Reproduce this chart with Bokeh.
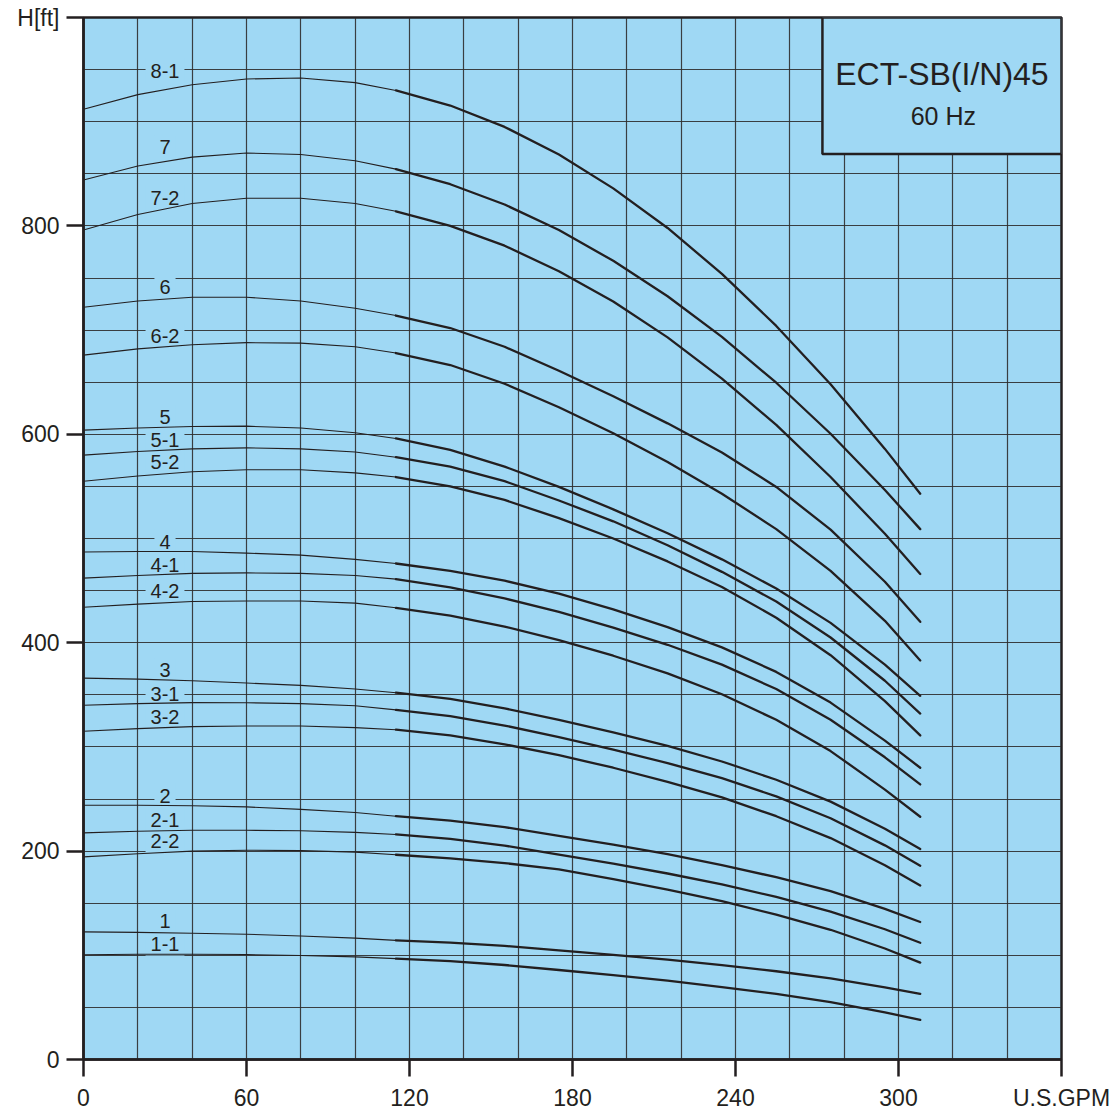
from bokeh.plotting import figure
from bokeh.models import Range1d, FixedTicker, ColumnDataSource
from bokeh.embed import file_html
from bokeh.resources import INLINE
from bokeh.core.properties import value

# ---------------- data ----------------
flow_thin = [0, 20, 40, 60, 80, 100, 115]
flow_thick = [115, 135, 155, 175, 195, 215, 235, 255, 275, 295, 308]

h_8_1_thin = [912, 926, 935.5, 941, 942, 937.5, 930]
h_8_1_thick = [930, 915.5, 895, 868.5, 836, 798, 754, 704, 648, 586, 543]
h_7_thin = [844, 857.5, 866, 870, 868.5, 862.5, 854.5]
h_7_thick = [854.5, 840, 820.5, 796, 766.5, 732.5, 693.5, 649.5, 600.5, 546.5, 509]
h_7_2_thin = [796, 811, 821.5, 826.5, 826.5, 821.5, 814]
h_7_2_thick = [814, 800, 781, 756.5, 727.5, 693, 653.5, 609, 559, 504.5, 466]
h_6_thin = [722, 728, 731.5, 731.5, 728, 721, 714]
h_6_thick = [714, 702, 684, 661, 636.5, 610.5, 582.5, 549.5, 508.5, 458.5, 420]
h_6_2_thin = [676, 682, 686, 688, 687.5, 684, 678]
h_6_2_thick = [678, 666.5, 648.5, 626, 601, 573.5, 543, 509, 469, 421, 383]
h_5_thin = [604, 606, 607.5, 607.8, 606, 601.5, 596]
h_5_thick = [596, 585, 569, 549.5, 528, 505, 480, 452, 419, 379, 349]
h_5_1_thin = [580, 583.5, 586, 587, 586, 583, 578]
h_5_1_thick = [578, 569, 555, 536.5, 516.5, 493.5, 468, 439.5, 405, 363.5, 332]
h_5_2_thin = [555, 560, 564, 566, 566, 563, 559]
h_5_2_thick = [559, 550, 537, 519.5, 500, 478, 453.5, 424, 388, 344, 311]
h_4_thin = [487, 487.5, 487.5, 486, 484, 480, 476]
h_4_thick = [476, 469, 459.5, 447, 432, 415, 395.5, 372, 342.5, 306, 280]
h_4_1_thin = [462, 464.5, 466.5, 467, 466.5, 464.5, 461]
h_4_1_thick = [461, 453, 442.5, 429.5, 414.5, 398, 379, 355.5, 326, 290, 264]
h_4_2_thin = [434, 437, 439.5, 440, 440, 438, 433.5]
h_4_2_thick = [433.5, 426, 415.5, 402.5, 387.5, 370.5, 350.5, 326, 296, 259, 233]
h_3_thin = [366, 365, 363.5, 361.3, 359, 355.5, 352]
h_3_thick = [352, 346, 337, 326, 314, 301, 286, 268.5, 247.5, 221.5, 202]
h_3_1_thin = [340, 341.5, 342.5, 342.4, 341.5, 339.5, 335.5]
h_3_1_thick = [335.5, 329.5, 320.5, 309.5, 297.5, 284.5, 270, 252.5, 231.5, 205.5, 186]
h_3_2_thin = [315, 317.5, 319.5, 320, 320, 318.5, 316.5]
h_3_2_thick = [316.5, 311, 302.5, 292, 280, 266.5, 251.5, 233.5, 212.5, 186.5, 167]
h_2_thin = [244, 244, 243.5, 242.4, 240, 237, 233.5]
h_2_thick = [233.5, 229.3, 223, 214.7, 206.3, 197, 186.5, 175, 161.5, 144.5, 132]
h_2_1_thin = [217.5, 219, 220, 220, 219.5, 218, 216]
h_2_1_thick = [216, 211.7, 205.3, 196.7, 188, 178.5, 168, 156, 142, 125, 112]
h_2_2_thin = [194.5, 197.5, 200, 200.8, 200.5, 199, 196.5]
h_2_2_thick = [196.5, 193, 188.5, 182.5, 173, 163, 152, 139, 124.5, 106.5, 93]
h_1_thin = [122.5, 122, 121.2, 120.2, 118.5, 116.5, 114.3]
h_1_thick = [114.3, 112.2, 109, 104.8, 100.5, 95.8, 90.5, 84.7, 77.8, 69.3, 63]
h_1_1_thin = [100.5, 101, 101, 100.7, 99.8, 98.5, 96.8]
h_1_1_thick = [96.8, 94.4, 90.7, 85.9, 81, 75.6, 69.5, 62.9, 55, 45.3, 38]

curve_names = ["8-1", "7", "7-2", "6", "6-2", "5", "5-1", "5-2", "4", "4-1", "4-2",
               "3", "3-1", "3-2", "2", "2-1", "2-2", "1", "1-1"]
curves_thin = [h_8_1_thin, h_7_thin, h_7_2_thin, h_6_thin, h_6_2_thin, h_5_thin, h_5_1_thin,
               h_5_2_thin, h_4_thin, h_4_1_thin, h_4_2_thin, h_3_thin, h_3_1_thin, h_3_2_thin,
               h_2_thin, h_2_1_thin, h_2_2_thin, h_1_thin, h_1_1_thin]
curves_thick = [h_8_1_thick, h_7_thick, h_7_2_thick, h_6_thick, h_6_2_thick, h_5_thick, h_5_1_thick,
                h_5_2_thick, h_4_thick, h_4_1_thick, h_4_2_thick, h_3_thick, h_3_1_thick, h_3_2_thick,
                h_2_thick, h_2_1_thick, h_2_2_thick, h_1_thick, h_1_1_thick]

label_flow = [30] * 19
label_head = [949, 875.5, 827, 741.5, 694.5, 616.5, 595, 573.3, 497, 475, 449.5,
              373.5, 350.5, 328.7, 253, 230.2, 209.8, 132.7, 111.3]

x_ticks = [0, 60, 120, 180, 240, 300, 360]
y_ticks = [0, 200, 400, 600, 800, 1000]
x_unit = "U.S.GPM"
y_unit = "H[ft]"
title_main = "ECT-SB(I/N)45"
title_sub = "60 Hz"

# ---------------- styling ----------------
BLUE = "#9fd8f4"
INK = "#231f20"
GRID = "#2e2e2e"
FONT = "Liberation Sans"

p = figure(width=1113, height=1113,
           x_range=Range1d(0, 360), y_range=Range1d(0, 1000),
           output_backend="svg", toolbar_location=None,
           min_border_left=83, min_border_right=52, min_border_top=17, min_border_bottom=52,
           background_fill_color=BLUE, border_fill_color="white")

p.outline_line_color = INK
p.outline_line_width = 2.5

p.xaxis.ticker = FixedTicker(ticks=x_ticks)
p.yaxis.ticker = FixedTicker(ticks=y_ticks)
p.xaxis.major_label_overrides = {360: x_unit}
p.yaxis.major_label_overrides = {1000: y_unit}
for ax in (p.xaxis[0], p.yaxis[0]):
    ax.axis_line_color = INK
    ax.axis_line_width = 2.5
    ax.major_tick_line_color = INK
    ax.major_tick_line_width = 2.5
    ax.major_tick_out = 17
    ax.major_tick_in = 0
    ax.minor_tick_line_color = None
    ax.major_label_text_font = FONT
    ax.major_label_text_font_size = "23px"
    ax.major_label_text_color = INK
p.xaxis.major_label_standoff = 8
p.yaxis.major_label_standoff = 7

p.xgrid.ticker = FixedTicker(ticks=list(range(0, 361, 20)))
p.ygrid.ticker = FixedTicker(ticks=list(range(0, 1001, 50)))
for g in (p.xgrid[0], p.ygrid[0]):
    g.grid_line_color = GRID
    g.grid_line_width = 1.2
    g.grid_line_alpha = 0.9

# curve labels (with blue background to break the grid lines)
lab_src = ColumnDataSource(dict(x=label_flow, y=label_head, t=curve_names))
p.text(x="x", y="y", text="t", source=lab_src,
       text_font=value(FONT), text_font_size="20px", text_color=INK,
       text_align="center", text_baseline="middle",
       background_fill_color=BLUE, padding=5)

# curves
for thin, thick in zip(curves_thin, curves_thick):
    p.line(flow_thin, thin, line_color=INK, line_width=1.1, line_join="round")
    p.line(flow_thick, thick, line_color=INK, line_width=2.3, line_join="round", line_cap="round")

# title box
p.quad(left=[272], right=[360], bottom=[869], top=[1000],
       fill_color=BLUE, line_color=INK, line_width=2.5)
p.text(x=[316], y=[946], text=[title_main],
       text_font=value(FONT), text_font_size="32px",
       text_color=INK, text_align="center", text_baseline="middle")
p.text(x=[316.5], y=[905], text=[title_sub],
       text_font=value(FONT), text_font_size="25px",
       text_color=INK, text_align="center", text_baseline="middle")

open("out.html", "w").write(file_html(p, INLINE))
